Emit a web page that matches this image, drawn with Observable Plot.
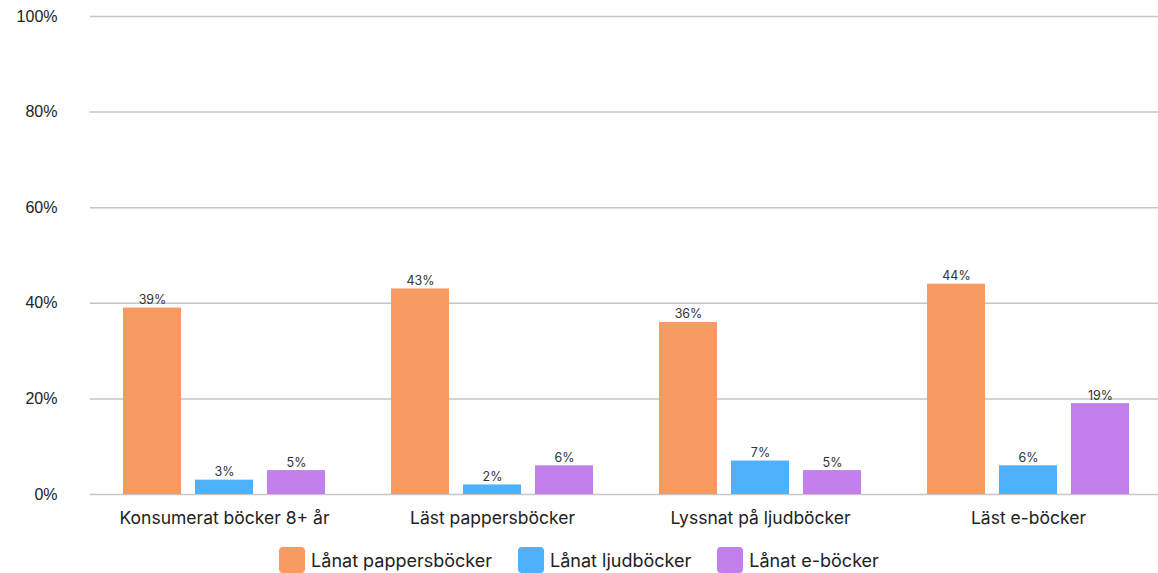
<!DOCTYPE html>
<html>
<head>
<meta charset="utf-8">
<script src="https://cdn.jsdelivr.net/npm/d3@7"></script>
<script src="https://cdn.jsdelivr.net/npm/@observablehq/plot@0.6"></script>
<style>
  html, body { margin: 0; padding: 0; background: #fff; }
  #chart { width: 1158px; overflow: hidden; }
  .legend { display: flex; justify-content: center; align-items: center; gap: 26px; font-family: Inter, sans-serif; font-size: 18px; color: #222; height: 38px; padding-top: 6px; }
  .legend .item { display: flex; align-items: center; gap: 6px; }
  .legend .sw { width: 26px; height: 26px; border-radius: 4px; display: inline-block; }
</style>
</head>
<body>
<div id="chart"></div>
<script>
const categories = ["Konsumerat böcker 8+ år", "Läst pappersböcker", "Lyssnat på ljudböcker", "Läst e-böcker"];
const seriesNames = ["Lånat pappersböcker", "Lånat ljudböcker", "Lånat e-böcker"];
const paper = [39, 43, 36, 44];
const audio = [3, 2, 7, 6];
const ebook = [5, 6, 5, 19];
const colors = ["#f89b63", "#4fb0fb", "#c27ee9"];
const yTicks = [0, 20, 40, 60, 80, 100];

const seriesValues = [paper, audio, ebook];
const data = [];
categories.forEach((c, i) => seriesNames.forEach((s, j) => data.push({cat: c, series: s, value: seriesValues[j][i]})));

const plot = Plot.plot({
  width: 1158,
  height: 535,
  marginLeft: 89,
  marginRight: -4,
  marginTop: 16,
  marginBottom: 41,
  style: {fontFamily: "Inter, sans-serif", background: "#fff"},
  fx: {domain: categories, padding: 0, label: null, axis: null},
  x: {domain: seriesNames, paddingInner: 0.194, paddingOuter: 0.455, axis: null},
  y: {domain: [0, 100], axis: null},
  color: {domain: seriesNames, range: colors},
  marks: [
    Plot.ruleY(yTicks, {stroke: "#c6c6c6", strokeWidth: 1.5, facetAnchor: null}),
    Plot.axisY(yTicks, {tickSize: 0, tickPadding: 33, tickFormat: d => d + "%", fontSize: 16, fontFamily: "Liberation Sans, Arial, sans-serif", fill: "#222", label: null}),
    Plot.axisFx({anchor: "bottom", tickSize: 0, tickPadding: 17, fontSize: 17.5, fill: "#222", label: null}),
    Plot.barY(data, {fx: "cat", x: "series", y: "value", fill: "series"}),
    Plot.text(data, {fx: "cat", x: "series", y: "value", text: d => d.value + "%", dy: -8, fontSize: 12.5, fill: "#333"})
  ]
});

const root = document.getElementById("chart");
root.appendChild(plot);
const legend = document.createElement("div");
legend.className = "legend";
seriesNames.forEach((s, i) => {
  const item = document.createElement("div");
  item.className = "item";
  const sw = document.createElement("span");
  sw.className = "sw";
  sw.style.background = colors[i];
  const t = document.createElement("span");
  t.textContent = s;
  item.appendChild(sw);
  item.appendChild(t);
  legend.appendChild(item);
});
root.appendChild(legend);
</script>
</body>
</html>
